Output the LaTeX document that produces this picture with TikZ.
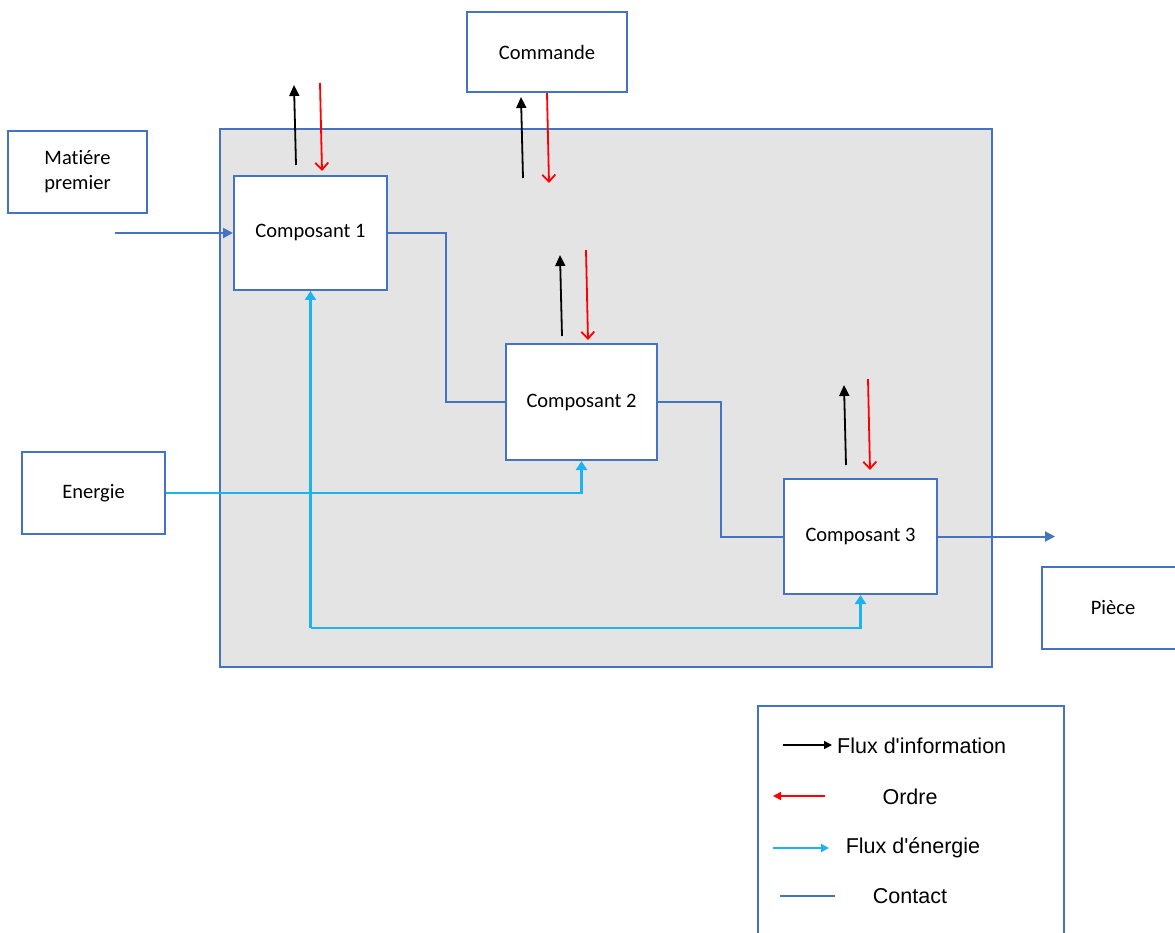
\documentclass[tikz,border=0pt]{standalone}
\usepackage{fontspec}
\setmainfont{Carlito}[Ligatures={NoCommon,NoContextual}]
\newfontfamily\legendfont{Liberation Sans}
\usetikzlibrary{arrows.meta,calc}
\definecolor{boxblue}{HTML}{4472C4}
\definecolor{panelgrey}{HTML}{E4E4E4}
\definecolor{energy}{HTML}{1DB3EC}
\definecolor{ordre}{HTML}{FF0000}
\begin{document}
\begin{tikzpicture}[x=1pt,y=-1pt,
  box/.style={draw=boxblue, line width=2pt, fill=white, inner sep=0pt,
    font=\fontsize{20.5}{25}\selectfont, align=center},
  contact/.style={draw=boxblue, line width=2pt},
  flow/.style={contact, -{Triangle[length=10pt,width=10pt]}},
  energyarrow/.style={draw=energy, line width=2.8pt, -{Triangle[length=9pt,width=11pt]}},
  info/.style={draw=black, line width=1.8pt, -{Triangle[length=11pt,width=10pt]}},
  order/.style={draw=ordre, line width=1.8pt, -{Straight Barb[length=7pt,width=13pt]}},
  legtext/.style={font=\legendfont\fontsize{21.5}{25}\selectfont, inner sep=0pt}
]
\useasboundingbox (0,0) rectangle (1175,933);
\begin{scope}
\clip (0,0) rectangle (1175,933);

% system boundary
\node[draw=boxblue, line width=2pt, fill=panelgrey, inner sep=0pt,
  minimum width=772pt, minimum height=538pt] (panel) at (606,398) {};

% blocks
\node[box, minimum width=160pt, minimum height=80pt] (cmd) at (547,52) {Commande};
\node[box, minimum width=139pt, minimum height=82pt] (mat) at (77.5,172) {Matiére\\premier};
\node[box, minimum width=143pt, minimum height=82pt] (energie) at (93.5,493) {Energie};
\node[box, minimum width=142pt, minimum height=82pt] (piece) at (1113,608) {Pièce};
\node[box, minimum width=153pt, minimum height=114pt] (c1) at (310.5,233) {Composant 1};
\node[box, minimum width=151pt, minimum height=116pt] (c2) at (581.5,402) {Composant 2};
\node[box, minimum width=153pt, minimum height=115pt] (c3) at (860.5,536.5) {Composant 3};

% material path and contacts
\coordinate (matin) at (115,233);
\coordinate (out) at (1055,536.5);
\draw[flow] (matin) -- (c1.west);
\draw[contact] (c1.east) -- ++(58,0) |- (c2.west);
\draw[contact] (c2.east) -- ++(63,0) |- (c3.west);
\draw[flow] (c3.east) -- (out);

% energy distribution
\coordinate (ejoin) at (310.5,628);
\draw[energyarrow] (energie.east) -| (c2.south);
\draw[energyarrow] (ejoin) -- (c1.south);
\draw[energyarrow] (ejoin) -| (c3.south);

% information and order flows
\draw[info]  ($(c1.north)+(-14.5,-10)$) -- ++(-2,-80);
\draw[order] ($(c1.north)+(9.5,-92)$) -- ++(2,88);
\draw[info]  ($(cmd.south)+(-24,85)$) -- ++(-2,-81);
\draw[order] (cmd.south) -- ++(2,90);
\draw[info]  ($(c2.north)+(-19.5,-7)$) -- ++(-2,-81);
\draw[order] ($(c2.north)+(4.5,-93)$) -- ++(2,90);
\draw[info]  ($(c3.north)+(-14.5,-13)$) -- ++(-2,-80);
\draw[order] ($(c3.north)+(7.5,-99)$) -- ++(2,91);

% legend
\node[box, minimum width=306pt, minimum height=260pt] (legend) at (911,836) {};
\coordinate (l1a) at (783,745); \coordinate (l1b) at (832,745);
\coordinate (l2a) at (825,796); \coordinate (l2b) at (773,796);
\coordinate (l3a) at (773,848); \coordinate (l3b) at (829,848);
\coordinate (l4a) at (780,896); \coordinate (l4b) at (835,896);
\draw[draw=black, line width=1.5pt, -{Triangle[length=8pt,width=8pt]}] (l1a) -- (l1b);
\draw[draw=ordre, line width=1.5pt, -{Triangle[length=8pt,width=8pt]}] (l2a) -- (l2b);
\draw[draw=energy, line width=2pt, -{Triangle[length=8pt,width=8pt]}] (l3a) -- (l3b);
\draw[contact] (l4a) -- (l4b);
\node[legtext, anchor=west] (t1) at (837,746) {Flux d'information};
\node[legtext] (t2) at (910,797) {Ordre};
\node[legtext] (t3) at (913,848) {Flux d'énergie};
\node[legtext] (t4) at (910,896) {Contact};
\end{scope}
\end{tikzpicture}
\end{document}
